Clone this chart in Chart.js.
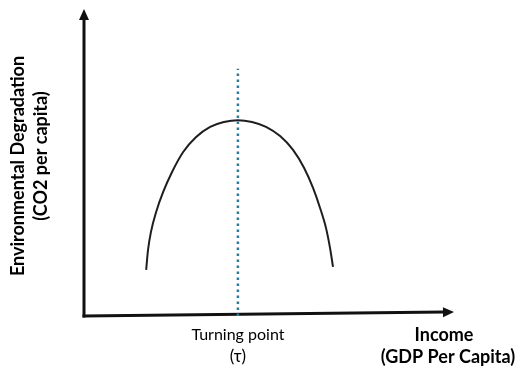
<!DOCTYPE html>
<html>
<head>
<meta charset="utf-8">
<script src="https://cdn.jsdelivr.net/npm/chart.js@4.4.1/dist/chart.umd.min.js"></script>
<style>
  html, body { margin: 0; padding: 0; background: #fff; }
  #wrap { width: 517px; height: 370px; position: relative; }
</style>
</head>
<body>
<div id="wrap"><canvas id="ekcChart"></canvas></div>
<script>
// Inverted-U curve (income vs. degradation, arbitrary units 0-100)
const incomeValues = [16.8, 17.3, 18.1, 19.5, 21.4, 23.8, 26.8, 30.3, 34.1, 37.8, 41.6,
                      45.4, 49.2, 53.0, 56.5, 59.5, 61.9, 63.8, 65.4, 66.5, 67.3];
const degradationValues = [15.0, 21.5, 27.4, 33.9, 40.4, 46.9, 53.4, 58.3, 61.6, 63.2, 63.8,
                           63.2, 61.6, 58.6, 54.1, 48.2, 41.7, 35.2, 28.7, 22.1, 16.0];

// Turning point marker
const turningPointX = 41.6;
const turningLineY = [0, 80.5];

// Axis end points (the x axis rises slightly in the original)
const xAxisEnd = [100, 1.3];
const yAxisEnd = [0, 100];

// Text
const yTitleLines = ['Environmental Degradation', '(CO2 per capita)'];
const xTitleLines = ['Income', '(GDP Per Capita)'];
const turningLabel = ['Turning point', '(\u03C4)'];

const curvePoints = incomeValues.map((x, i) => ({ x: x, y: degradationValues[i] }));
const turningPoints = turningLineY.map(y => ({ x: turningPointX, y: y }));

// Draw the arrowed axes and the labels
const axesPlugin = {
    id: 'axesPlugin',
    beforeDatasetsDraw(chart) {
        const { ctx, scales: { x, y } } = chart;
        const x0 = x.getPixelForValue(0), y0 = y.getPixelForValue(0);

        const arrow = (fx, fy, tx, ty) => {
            const ang = Math.atan2(ty - fy, tx - fx);
            const len = 11, half = 5;
            const bx = tx - len * Math.cos(ang), by = ty - len * Math.sin(ang);
            ctx.beginPath();
            ctx.moveTo(fx, fy);
            ctx.lineTo(bx, by);
            ctx.stroke();
            ctx.beginPath();
            ctx.moveTo(tx, ty);
            ctx.lineTo(bx + half * Math.sin(ang), by - half * Math.cos(ang));
            ctx.lineTo(bx - half * Math.sin(ang), by + half * Math.cos(ang));
            ctx.closePath();
            ctx.fill();
        };

        ctx.save();
        ctx.strokeStyle = '#111';
        ctx.fillStyle = '#111';
        ctx.lineWidth = 3;
        ctx.lineCap = 'square';
        arrow(x0, y0, x.getPixelForValue(xAxisEnd[0]), y.getPixelForValue(xAxisEnd[1]));
        arrow(x0, y0, x.getPixelForValue(yAxisEnd[0]), y.getPixelForValue(yAxisEnd[1]));
        ctx.restore();
    },
    afterDraw(chart) {
        const { ctx, scales: { x } } = chart;
        ctx.save();
        ctx.fillStyle = '#000';
        ctx.textAlign = 'center';
        ctx.textBaseline = 'middle';

        // turning point label under the dotted line
        ctx.font = '16px Lato, "Open Sans", sans-serif';
        const tx = x.getPixelForValue(turningPointX);
        ctx.fillText(turningLabel[0], tx, 335);
        ctx.font = '17px Lato, "Open Sans", sans-serif';
        ctx.fillText(turningLabel[1], tx, 357);

        // x title, bottom right
        ctx.font = 'bold 18px Lato, "Open Sans", sans-serif';
        ctx.fillText(xTitleLines[0], 444, 335);
        ctx.fillText(xTitleLines[1], 448, 357);

        // y title, rotated
        ctx.translate(18, 166);
        ctx.rotate(-Math.PI / 2);
        ctx.fillText(yTitleLines[0], 0, 0);
        ctx.fillText(yTitleLines[1], 10, 23);
        ctx.restore();
    }
};

const ctx = document.getElementById('ekcChart').getContext('2d');
const ekcChart = new Chart(ctx, {
    type: 'line',
    data: {
        datasets: [
            {
                label: 'Turning point',
                data: turningPoints,
                borderColor: '#2a7ba3',
                borderWidth: 2.5,
                borderDash: [2.5, 3.5],
                borderCapStyle: 'butt',
                pointRadius: 0,
                fill: false
            },
            {
                label: 'EKC',
                data: curvePoints,
                borderColor: '#1e1e1e',
                borderWidth: 2,
                pointRadius: 0,
                tension: 0.4,
                cubicInterpolationMode: 'monotone',
                fill: false
            }
        ]
    },
    options: {
        responsive: true,
        maintainAspectRatio: false,
        animation: false,
        layout: { padding: { left: 84, right: 63, top: 9, bottom: 54 } },
        plugins: { legend: { display: false }, tooltip: { enabled: false } },
        scales: {
            x: { type: 'linear', min: 0, max: 100, display: false },
            y: { type: 'linear', min: 0, max: 100, display: false }
        }
    },
    plugins: [axesPlugin]
});
</script>
</body>
</html>
